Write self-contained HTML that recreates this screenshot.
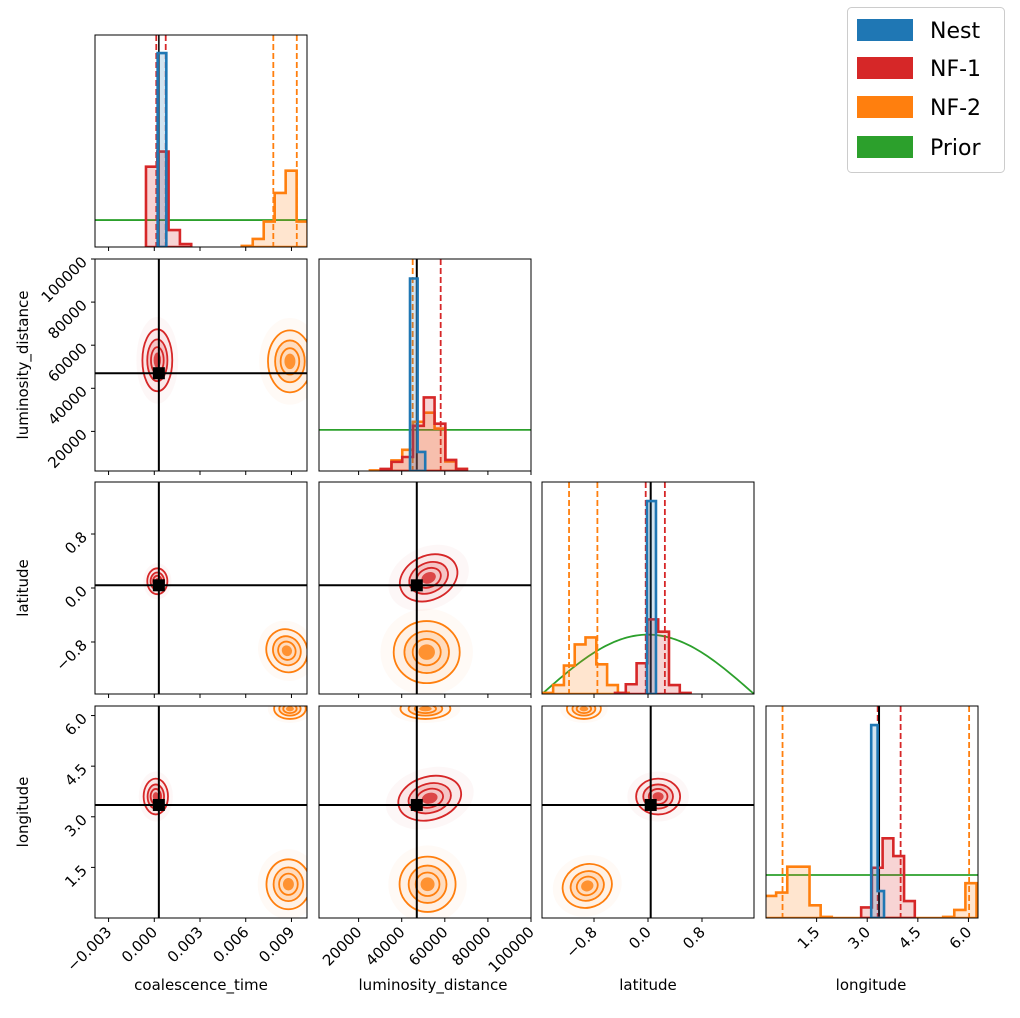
<!DOCTYPE html>
<html><head><meta charset="utf-8"><style>
html,body{margin:0;padding:0;background:#fff;}
svg{display:block;font-family:"DejaVu Sans","Liberation Sans",sans-serif;}
</style></head><body>
<svg id="c" width="1020" height="1018" xmlns="http://www.w3.org/2000/svg"></svg>
<script>
// ---- data ----
const paramNames = ["coalescence_time","luminosity_distance","latitude","longitude"];
const domains = [[-0.00389,0.01002],[1620,100000],[-1.5708,1.5708],[0,6.2832]];
const tickValues = [[-0.003,0,0.003,0.006,0.009],[20000,40000,60000,80000,100000],[-0.8,0,0.8],[1.5,3,4.5,6]];
const tickLabels = [["\u22120.003","0.000","0.003","0.006","0.009"],["20000","40000","60000","80000","100000"],["\u22120.8","0.0","0.8"],["1.5","3.0","4.5","6.0"]];
const truths = [0.0003,47000,0.04,3.35];
const seriesNames = ["Nest","NF-1","NF-2","Prior"];
const seriesColors = {nest:"#1f77b4",nf1:"#d62728",nf2:"#ff7f0e",prior:"#2ca02c"};
// histogram: start edge, bin width, heights (normalized to panel height)
const histNest = [[0.00022,0.00057,[0.915]],[43850,3530,[0.908,0.09]],[-0.015,0.133,[0.91]],[3.118,0.19,[0.91,0.127]]];
const histNF1 = [[-0.000545,0.000742,[0.379,0.45,0.08,0.014]],[30250,5000,[0.01,0.043,0.066,0.213,0.347,0.223,0.052,0.01]],[-0.489,0.16,[0.005,0.046,0.145,0.352,0.294,0.042,0.005]],[2.82,0.318,[0.05,0.237,0.376,0.292,0.08]]];
const histNF2 = [[0.00574,0.00072,[0.005,0.038,0.12,0.255,0.36,0.12]],[25250,5000,[0.003,0.008,0.05,0.1,0.232,0.275,0.2,0.045,0.01]],[-1.566,0.16,[0.005,0.042,0.134,0.234,0.267,0.14,0.042,0.005]],[-0.03,0.33,[0.104,0.12,0.242,0.242,0.06,0.005,0,0,0,0,0,0,0,0,0,0,0.005,0.038,0.164]]];
const priorLevels = [0.127,0.194,0.28,0.203]; // lat prior peak (cosine)
const quantNF1 = [[0.00013,0.00075],[58090],[-0.034,0.25],[3.31,3.99]];
const quantNF2 = [[0.00781,0.00935],[45100],[-1.17,-0.75],[0.49,6.02]];
// 2D blobs: col,row,series,cx,cy,sdx,sdy,rot
const blobCols = [0,0,0,0,0,0,0,1,1,1,1,1,2,2,2];
const blobRows = [1,1,2,2,3,3,3,2,2,3,3,3,3,3,3];
const blobSeries = ["nf1","nf2","nf1","nf2","nf1","nf2","nf2","nf1","nf2","nf1","nf2","nf2","nf1","nf2","nf2"];
const blobCX = [0.0002,0.0089,0.0002,0.0087,0.0001,0.0088,0.0089,52500,51600,53000,52000,51000,0.15,-0.9,-0.95];
const blobCY = [53000,52500,0.1,-0.93,3.6,1.0,6.2,0.15,-0.95,3.55,1.0,6.2,3.6,0.95,6.2];
const blobSX = [0.00049,0.00072,0.00033,0.00066,0.0004,0.00072,0.00052,6960,7660,7420,6500,5800,0.163,0.185,0.126];
const blobSY = [7190,7190,0.096,0.163,0.265,0.37,0.15,0.163,0.23,0.32,0.41,0.15,0.265,0.32,0.15];
const blobRot = [0,0,0,-30,0,0,0,-25,0,-15,0,0,0,-20,0];

// ---- layout ----
const colLeft=[95,319,542,766], rowTop=[35,259,482,706], S=212;
const NS="http://www.w3.org/2000/svg";
const svg=document.getElementById("c");
function el(tag,attrs,parent){const e=document.createElementNS(NS,tag);for(const k in attrs)e.setAttribute(k,attrs[k]);(parent||svg).appendChild(e);return e;}
function sx(c,v){const d=domains[c];return colLeft[c]+(v-d[0])/(d[1]-d[0])*S;}
function sy(r,v){const d=domains[r];return rowTop[r]+S-(v-d[0])/(d[1]-d[0])*S;}
function hy(r,h){return rowTop[r]+S-h*S;}

const defs=el("defs",{});
for(let r=0;r<4;r++)for(let c=0;c<=r;c++){
  const cp=el("clipPath",{id:"cp"+r+c},defs);
  el("rect",{x:colLeft[c],y:rowTop[r],width:S,height:S},cp);
}

function drawHist(c,spec,color,name){
  const [start,w,hs]=spec;
  let d="M"+sx(c,start)+","+hy(c,0);
  hs.forEach((h,i)=>{const x0=sx(c,start+i*w),x1=sx(c,start+(i+1)*w);d+=" L"+x0+","+hy(c,h)+" L"+x1+","+hy(c,h);});
  d+=" L"+sx(c,start+hs.length*w)+","+hy(c,0)+" Z";
  const g=el("g",{"clip-path":"url(#cp"+c+c+")"});
  const p=el("path",{d:d,fill:color,"fill-opacity":0.2,stroke:color,"stroke-width":2.6,"stroke-linejoin":"miter"},g);
  
  
}

for(let r=0;r<4;r++){
  for(let c=0;c<=r;c++){
    const x=colLeft[c],y=rowTop[r];
    const g=el("g",{"clip-path":"url(#cp"+r+c+")"});
    
    
    if(r===c){
      if(c===2){
        let d="";
        for(let i=0;i<=100;i++){const v=domains[2][0]+(domains[2][1]-domains[2][0])*i/100;d+=(i?" L":"M")+sx(2,v)+","+hy(2,priorLevels[2]*Math.cos(v));}
        const p=el("path",{d:d,fill:"none",stroke:seriesColors.prior,"stroke-width":1.8},g);
        
      }else{
        const p=el("line",{x1:x,x2:x+S,y1:hy(c,priorLevels[c]),y2:hy(c,priorLevels[c]),stroke:seriesColors.prior,"stroke-width":1.8},g);
        
      }
      drawHist(c,histNF2[c],seriesColors.nf2,'hist-nf2');
      drawHist(c,histNF1[c],seriesColors.nf1,'hist-nf1');
      drawHist(c,histNest[c],seriesColors.nest,'hist-nest');
      quantNF1[c].forEach(q=>{const l=el("line",{x1:sx(c,q),x2:sx(c,q),y1:y,y2:y+S,stroke:seriesColors.nf1,"stroke-width":1.8,"stroke-dasharray":"6,3"},g);});
      quantNF2[c].forEach(q=>{const l=el("line",{x1:sx(c,q),x2:sx(c,q),y1:y,y2:y+S,stroke:seriesColors.nf2,"stroke-width":1.8,"stroke-dasharray":"6,3"},g);});
      const t=el("line",{x1:sx(c,truths[c]),x2:sx(c,truths[c]),y1:y,y2:y+S,stroke:"#000","stroke-width":c>0?2:1.5},g);
      
    }else{
      for(let i=0;i<blobCols.length;i++){
        if(blobCols[i]!==c||blobRows[i]!==r)continue;
        const col=seriesColors[blobSeries[i]];
        const cx=sx(c,blobCX[i]),cy=sy(r,blobCY[i]);
        const rx=blobSX[i]/(domains[c][1]-domains[c][0])*S, ry=blobSY[i]/(domains[r][1]-domains[r][0])*S;
        const bg=el("g",{transform:"rotate("+blobRot[i]+" "+cx+" "+cy+")"},g);
        
        
        el("ellipse",{cx:cx,cy:cy,rx:rx*2.8,ry:ry*2.8,fill:col,"fill-opacity":0.04},bg);
        el("ellipse",{cx:cx,cy:cy,rx:rx*2,ry:ry*2,fill:col,"fill-opacity":0.07},bg);
        el("ellipse",{cx:cx,cy:cy,rx:rx*1.3,ry:ry*1.3,fill:col,"fill-opacity":0.18},bg);
        el("ellipse",{cx:cx,cy:cy,rx:rx*0.5,ry:ry*0.5,fill:col,"fill-opacity":0.8},bg);
        [0.85,1.35,2.0].forEach(k=>el("ellipse",{cx:cx,cy:cy,rx:rx*k,ry:ry*k,fill:"none",stroke:col,"stroke-width":1.8},bg));
      }
      const vx=sx(c,truths[c]),hyy=sy(r,truths[r]);
      const tv=el("line",{x1:vx,x2:vx,y1:y,y2:y+S,stroke:"#000","stroke-width":2},g);
      
      const th=el("line",{x1:x,x2:x+S,y1:hyy,y2:hyy,stroke:"#000","stroke-width":2},g);
      
      const tm=el("rect",{x:vx-6,y:hyy-6,width:12,height:12,fill:"#000"},g);
      
    }
    const fr=el("rect",{x:x,y:y,width:S,height:S,fill:"none",stroke:"#000","stroke-width":1});
    
    tickValues[c].forEach((v,k)=>{
      const tx=sx(c,v);
      el("line",{x1:tx,x2:tx,y1:y+S,y2:y+S+4,stroke:"#000","stroke-width":1});
      if(r===3){
        const t=el("text",{x:tx+4,y:y+S+15,"font-size":15,"text-anchor":"end",transform:"rotate(-45 "+(tx+4)+" "+(y+S+15)+")"});
        t.textContent=tickLabels[c][k];
        
      }
    });
    if(c===0&&r>0){
      tickValues[r].forEach((v,k)=>{
        const ty=sy(r,v);
        el("line",{x1:x-4,x2:x,y1:ty,y2:ty,stroke:"#000","stroke-width":1});
        const t=el("text",{x:x-7,y:ty+4,"font-size":15,"text-anchor":"end",transform:"rotate(-45 "+(x-7)+" "+(ty+4)+")"});
        t.textContent=tickLabels[r][k];
        
      });
    }
  }
}
const xTitleX=[201,433,648,871];
paramNames.forEach((n,i)=>{
  const t=el("text",{x:xTitleX[i],y:990,"font-size":15,"text-anchor":"middle"});
  t.textContent=n;
});
for(let r=1;r<4;r++){
  const cy=rowTop[r]+S/2;
  const t=el("text",{x:28,y:cy,"font-size":15,"text-anchor":"middle",transform:"rotate(-90 28 "+cy+")"});
  t.textContent=paramNames[r];
}
const lg=el("g",{});

el("rect",{x:847.5,y:7.5,width:157,height:165,rx:4,fill:"#fff",stroke:"#ccc","stroke-width":1},lg);
const legColors=[seriesColors.nest,seriesColors.nf1,seriesColors.nf2,seriesColors.prior];
const legY=[30,68,107,147];
seriesNames.forEach((n,i)=>{
  const e=el("g",{},lg);
  
  
  el("rect",{x:857,y:legY[i]-11,width:56,height:22,fill:legColors[i]},e);
  const t=el("text",{x:930,y:legY[i]+8,"font-size":22},e);t.textContent=n;
});
</script>
</body></html>
